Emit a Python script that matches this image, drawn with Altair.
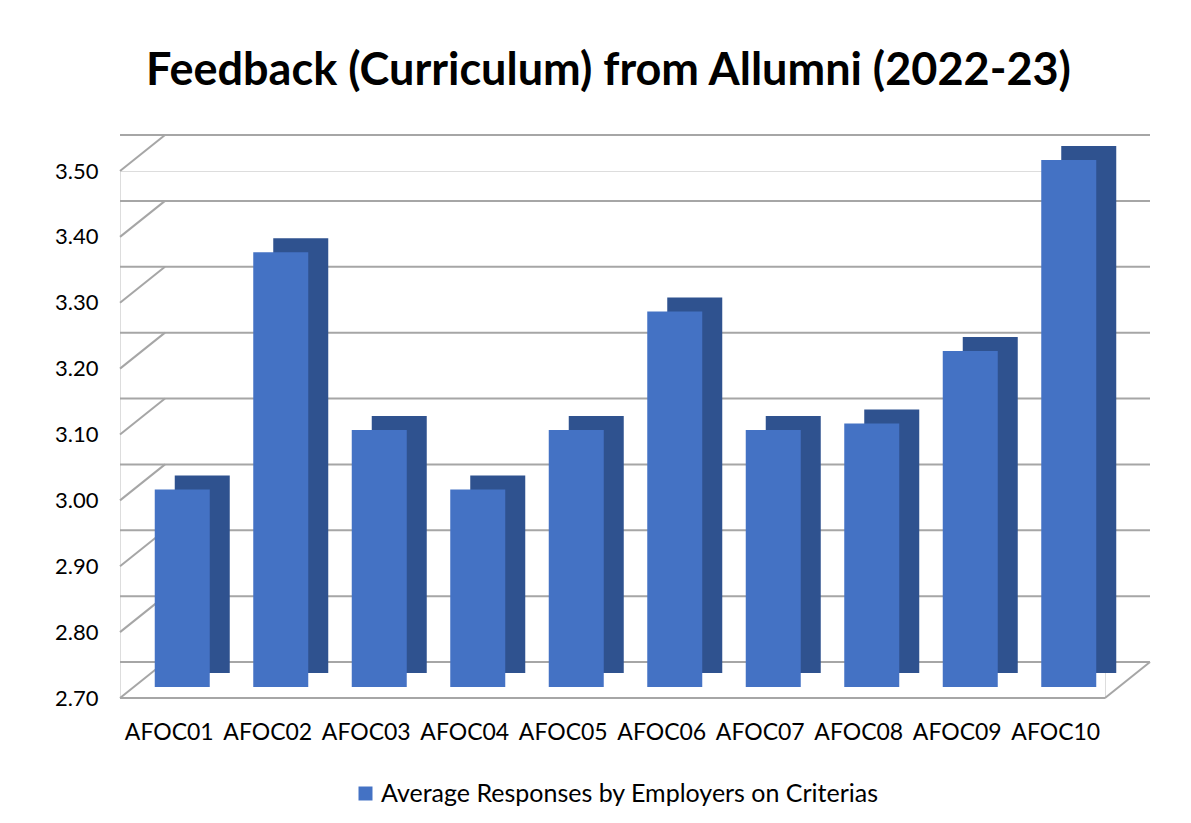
import altair as alt
import pandas as pd

categories = ["AFOC01", "AFOC02", "AFOC03", "AFOC04", "AFOC05",
              "AFOC06", "AFOC07", "AFOC08", "AFOC09", "AFOC10"]
values = [3.00, 3.36, 3.09, 3.00, 3.09, 3.27, 3.09, 3.10, 3.21, 3.50]
series_name = "Average Responses by Employers on Criterias"
y_ticks = [2.7, 2.8, 2.9, 3.0, 3.1, 3.2, 3.3, 3.4, 3.5]

df = pd.DataFrame({"cat": categories, "val": values, "series": series_name})
ticks = pd.DataFrame({"t": y_ticks})
floor = pd.DataFrame({"t": [2.7]})

FONT = "Lato"
FRONT = "#4472C4"
SIDE = "#2F528F"
GRID = "#A6A6A6"
DEPTH_X = 45
DEPTH_Y = -36
PLOT_W = 985
PLOT_H = 527

y_scale = alt.Scale(domain=[2.7, 3.5], zero=False, nice=False)
y_axis = alt.Axis(values=y_ticks, labelFontSize=22, labelFont=FONT,
                  labelColor="#000000", ticks=False, domain=False, grid=False,
                  labelPadding=22, format=".2f")
x_enc = alt.X("cat:N", sort=categories, title=None,
              scale=alt.Scale(paddingInner=0.0, paddingOuter=0.0),
              axis=alt.Axis(labelAngle=0, labelFontSize=23, labelFont=FONT,
                            labelColor="#000000", ticks=False, domain=False,
                            grid=False, labelPadding=23))

# back-wall gridlines
grid = alt.Chart(ticks).mark_rule(color=GRID, strokeWidth=2, xOffset=DEPTH_X,
                                  x2Offset=DEPTH_X, yOffset=DEPTH_Y).encode(
    y=alt.Y("t:Q", scale=y_scale, axis=y_axis, title=None),
)
# side-wall diagonals
diag = alt.Chart(ticks).mark_rule(color=GRID, strokeWidth=2, y2Offset=DEPTH_Y).encode(
    x=alt.value(0), x2=alt.value(DEPTH_X),
    y=alt.Y("t:Q", scale=y_scale, axis=y_axis, title=None),
    y2=alt.Y2("t"),
)
# floor front edge
floor_front = alt.Chart(floor).mark_rule(color=GRID, strokeWidth=2).encode(
    y=alt.Y("t:Q", scale=y_scale, axis=y_axis, title=None),
)
# floor right edge
floor_right = alt.Chart(floor).mark_rule(color=GRID, strokeWidth=2, y2Offset=DEPTH_Y).encode(
    x=alt.value(PLOT_W), x2=alt.value(PLOT_W + DEPTH_X),
    y=alt.Y("t:Q", scale=y_scale, axis=y_axis, title=None),
    y2=alt.Y2("t"),
)

back = alt.Chart(df).mark_bar(size=55, xOffset=33, yOffset=-25, y2Offset=-25,
                              color=SIDE).encode(
    x=x_enc,
    y=alt.Y("val:Q", scale=y_scale, axis=y_axis, title=None),
    y2=alt.datum(2.7),
)

front = alt.Chart(df).mark_bar(size=55, xOffset=13, yOffset=-11, y2Offset=-11).encode(
    x=x_enc,
    y=alt.Y("val:Q", scale=y_scale, axis=y_axis, title=None),
    y2=alt.datum(2.7),
    color=alt.Color("series:N", scale=alt.Scale(range=[FRONT]),
                    legend=alt.Legend(orient="none", legendX=233, legendY=610,
                                      title=None, labelFont=FONT,
                                      labelFontSize=25, labelColor="#000000",
                                      symbolType="square", symbolSize=196,
                                      symbolStrokeWidth=0, labelOffset=3,
                                      labelLimit=800)),
)

chart = (grid + diag + floor_front + floor_right + back + front).properties(
    width=PLOT_W,
    height=PLOT_H,
    padding={"left": 46, "top": 41, "right": 10, "bottom": 5},
    title=alt.TitleParams("Feedback (Curriculum) from Allumni (2022-23)",
                          font=FONT, fontSize=45, fontWeight="bold",
                          color="#000000", anchor="middle", frame="group",
                          dx=-4, offset=40),
).configure_view(stroke=None).configure(background="white")

chart.save("out.html", embed_options={"renderer": "svg", "actions": False})
